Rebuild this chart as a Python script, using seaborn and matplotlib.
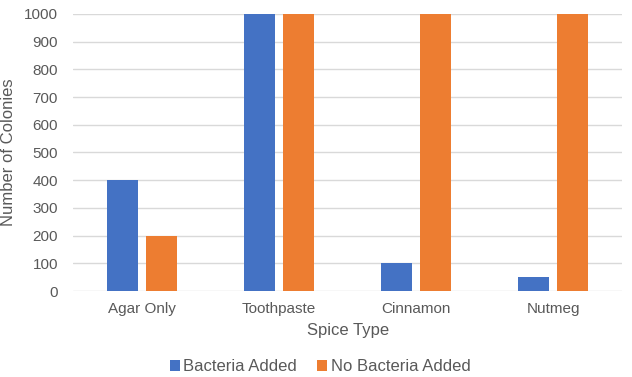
import pandas as pd
import seaborn as sns
import matplotlib.pyplot as plt

spice_types = ["Agar Only", "Toothpaste", "Cinnamon", "Nutmeg"]
bacteria_added = [400, 1000, 100, 50]
no_bacteria_added = [200, 1000, 1000, 1000]
series_names = ["Bacteria Added", "No Bacteria Added"]

df = pd.DataFrame({
    "Spice Type": spice_types * 2,
    "Colonies": bacteria_added + no_bacteria_added,
    "Series": [series_names[0]] * 4 + [series_names[1]] * 4,
})

sns.set_style("white")
plt.rcParams["font.family"] = ["Liberation Sans", "DejaVu Sans"]
text_color = "#595959"

fig = plt.figure(figsize=(6.32, 3.77), dpi=100)
ax = fig.add_axes([0.116, 0.228, 0.868, 0.735])

sns.barplot(data=df, x="Spice Type", y="Colonies", hue="Series",
            palette=["#4472C4", "#ED7D31"], width=0.57, gap=0.2,
            saturation=1, linewidth=0, ax=ax, zorder=3)

ax.set_ylim(0, 1000)
ax.set_yticks(range(0, 1001, 100))
ax.yaxis.grid(True, color="#D9D9D9", linewidth=1, zorder=0)
ax.set_axisbelow(True)
for s in ax.spines.values():
    s.set_visible(False)
ax.tick_params(axis="both", length=0, colors=text_color, labelsize=11)
ax.tick_params(axis="y", pad=11)
ax.tick_params(axis="x", pad=8)
ax.set_xlabel("Spice Type", fontsize=12, color=text_color, labelpad=5)
ax.set_ylabel("Number of Colonies", fontsize=12, color=text_color, labelpad=6)

ax.legend(loc="lower center", bbox_to_anchor=(0.45, -0.355), ncol=2, frameon=False,
          fontsize=12, labelcolor=text_color, handlelength=0.6, handleheight=0.6,
          handletextpad=0.2, columnspacing=1.2)

fig.savefig("out.png", dpi=100)
